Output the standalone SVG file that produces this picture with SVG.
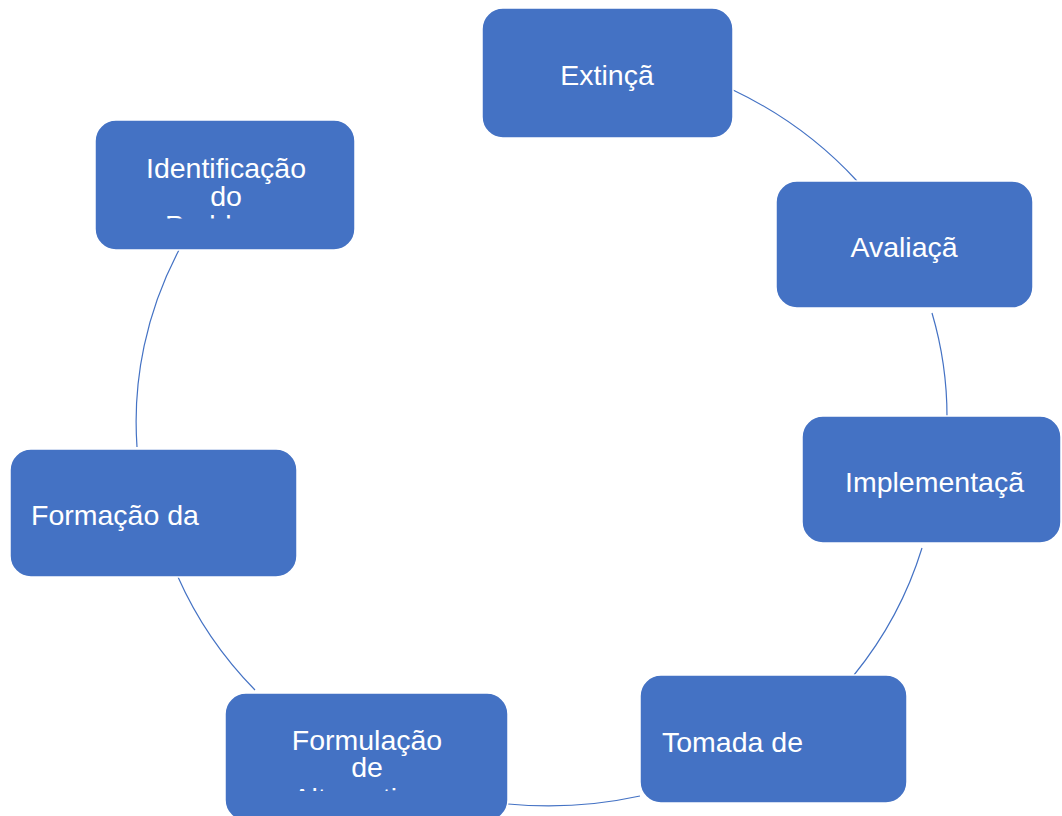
<svg xmlns="http://www.w3.org/2000/svg" width="1062" height="816" viewBox="0 0 1062 816">
<style>
.box{fill:#4472C4;stroke:#ffffff;stroke-width:1.5}
.lbl{font-family:"Liberation Sans",Arial,sans-serif;font-size:28.5px;fill:#ffffff}
.mid{text-anchor:middle}
.arc{fill:none;stroke:#4472C4;stroke-width:1.2}
</style>
<defs>
<clipPath id="clipIdent"><rect x="95" y="120" width="260" height="98.5"/></clipPath>
<clipPath id="clipForm"><rect x="225" y="693" width="283" height="98"/></clipPath>
</defs>
<rect width="1062" height="816" fill="#ffffff"/>
<g id="connectors">
<path class="arc" d="M733,90 A406,384 0 0 1 857,181"/>
<path class="arc" d="M932,313 A406,384 0 0 1 947,417"/>
<path class="arc" d="M922,548 A406,384 0 0 1 854,675"/>
<path class="arc" d="M640,796 A406,384 0 0 1 508,804"/>
<path class="arc" d="M255,690 A406,384 0 0 1 178,577"/>
<path class="arc" d="M137,447 A406,384 0 0 1 179,250"/>
</g>
<g id="node-extincao">
<rect class="box" x="482" y="8" width="251" height="130" rx="21"/>
<text class="lbl mid" x="607" y="85">Extinçã</text>
</g>
<g id="node-avaliacao">
<rect class="box" x="776" y="181" width="257" height="127" rx="21"/>
<text class="lbl mid" x="904" y="257">Avaliaçã</text>
</g>
<g id="node-implementacao">
<rect class="box" x="802" y="416" width="259" height="127" rx="21"/>
<text class="lbl" x="845" y="492">Implementaçã</text>
</g>
<g id="node-tomada">
<rect class="box" x="640" y="675" width="267" height="128" rx="21"/>
<text class="lbl" x="662" y="752">Tomada de</text>
</g>
<g id="node-formulacao">
<rect class="box" x="225" y="693" width="283" height="128" rx="21"/>
<g clip-path="url(#clipForm)">
<text class="lbl mid" x="367" y="750">Formulação</text>
<text class="lbl mid" x="367" y="777">de</text>
<text class="lbl mid" x="367" y="808">Alternativas</text>
</g>
</g>
<g id="node-formacao">
<rect class="box" x="10" y="449" width="287" height="128" rx="21"/>
<text class="lbl" x="31" y="525">Formação da</text>
</g>
<g id="node-identificacao">
<rect class="box" x="95" y="120" width="260" height="130" rx="21"/>
<g clip-path="url(#clipIdent)">
<text class="lbl mid" x="226" y="178">Identificação</text>
<text class="lbl mid" x="226" y="205.5">do</text>
<text class="lbl mid" x="226" y="235">Problema</text>
</g>
</g>
</svg>
